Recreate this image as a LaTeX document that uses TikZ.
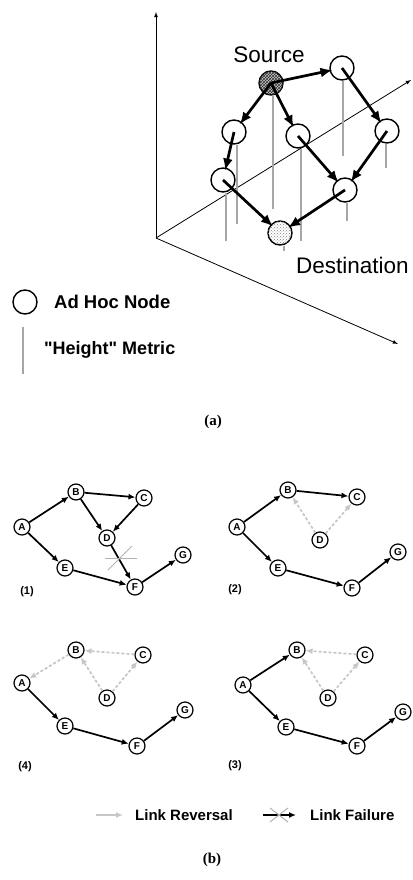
\documentclass[tikz,border=0pt]{standalone}
\usepackage{fontspec}
\setmainfont{Liberation Sans}[Ligatures=TeXOff]
\newfontfamily\capfont{Liberation Serif}
\usetikzlibrary{positioning,arrows,arrows.meta,patterns}

\tikzset{
  hoc/.style={circle,draw=black,line width=1.4pt,fill=white,minimum size=24pt,inner sep=0pt},
  nd/.style={circle,draw=black,line width=1.2pt,fill=white,minimum size=16pt,inner sep=0pt,font=\bfseries\fontsize{10}{10}\selectfont},
  txt/.style={inner sep=0pt},
  ax/.style={-latex,line width=0.8pt},
  hgt/.style={gray!70,line width=1.1pt},
  fat/.style={-{Latex[length=12pt,width=10pt]},line width=2.7pt,shorten >=-3pt},
  fwd/.style={-{Latex[length=7pt,width=6pt]},line width=1.7pt},
  rev/.style={-{Latex[length=7pt,width=6pt]},gray!45,line width=1.7pt,densely dashed},
  brk/.style={gray!60,line width=1pt}
}

\begin{document}
\begin{tikzpicture}[x=1pt,y=-1pt]
		\useasboundingbox (0,0) rectangle (412,880);

		%axes
		\coordinate (o) at (156,238);
		\coordinate (zt) at (156,12);
		\coordinate (xt) at (411,80);
		\coordinate (yt) at (398,344);
		\draw[ax] (o) -- (zt);
		\draw[ax] (o) -- (xt);
		\draw[ax] (o) -- (yt);

		%ad hoc nodes
		\node[hoc,fill=gray!45,postaction={pattern=crosshatch,pattern color=black!80}] (src) at (271,83) {};
		\node[hoc] (tr) at (342,68) {};
		\node[hoc] (rt) at (387,131) {};
		\node[hoc] (lu) at (234,132) {};
		\node[hoc] (mid) at (298,136) {};
		\node[hoc] (ll) at (223,180) {};
		\node[hoc] (rl) at (345,190) {};
		\node[hoc,postaction={pattern=crosshatch dots,pattern color=gray}] (dst) at (280,233) {};

		%heights
		\draw[hgt] ([xshift=2pt]src.south) -- ++(0,113);
		\draw[hgt] ([xshift=1pt]tr.south) -- ++(0,75);
		\draw[hgt] ([xshift=-1pt]rt.south) -- ++(0,24);
		\draw[hgt] ([xshift=3pt]lu.south) -- ++(0,79);
		\draw[hgt] ([xshift=3pt]mid.south) -- ++(0,92);
		\draw[hgt] ([xshift=3pt]ll.south) -- ++(0,48);
		\draw[hgt] ([xshift=2pt]rl.south) -- ++(0,18);
		\draw[hgt] ([xshift=4pt]dst.south) -- ++(0,5);

		%routes
		\draw[fat] (src.center) -- (tr);
		\draw[fat] (tr.center) -- (rt);
		\draw[fat] (rt.center) -- (rl);
		\draw[fat] (src.center) -- (lu);
		\draw[fat] (lu.center) -- (ll);
		\draw[fat] (src.center) -- (mid);
		\draw[fat] (mid.center) -- (rl);
		\draw[fat] (ll.center) -- (dst);
		\draw[fat] (rl.center) -- (dst);

		\node[txt,font=\fontsize{22.5}{22.5}\selectfont] (srclbl) at (269,55) {Source};
		\node[txt,anchor=west,font=\fontsize{22.5}{22.5}\selectfont] (dstlbl) at (296,265) {Destination};

		%key (a)
		\node[hoc] (key) at (25,302) {};
		\node[txt,anchor=west,font=\bfseries\fontsize{18.5}{18.5}\selectfont] (keylbl) at (54,302) {Ad Hoc Node};
		\coordinate (hk1) at (23,327);
		\coordinate (hk2) at (23,374);
		\draw[hgt] (hk1) -- (hk2);
		\node[txt,anchor=west,font=\bfseries\fontsize{18}{18}\selectfont] (hklbl) at (44,350) {"Height" Metric};
		\node[txt,font=\capfont\bfseries\fontsize{15}{15}\selectfont] (capa) at (213,422) {(a)};

		%panel (1)
		\node[nd] (a1) at (22,527) {A};
		\node[nd] (b1) at (76,492) {B};
		\node[nd] (c1) at (144,498) {C};
		\node[nd] (d1) at (107,538) {D};
		\node[nd] (e1) at (65,568) {E};
		\node[nd] (f1) at (135,587) {F};
		\node[nd] (g1) at (183,555) {G};
		\node[txt,font=\bfseries\fontsize{11}{11}\selectfont] (n1) at (27,592) {(1)};

		\draw[fwd] (a1) -- (b1);
		\draw[fwd] (b1) -- (c1);
		\draw[fwd] (b1) -- (d1);
		\draw[fwd] (c1) -- (d1);
		\draw[fwd] (d1) -- (f1);
		\draw[fwd] (a1) -- (e1);
		\draw[fwd] (e1) -- (f1);
		\draw[fwd] (f1) -- (g1);
		\draw[brk] (105,558) -- (137,558);
		\draw[brk] (108,570) -- (132,546);

		%panel (2)
		\node[nd] (a2) at (237,527) {A};
		\node[nd] (b2) at (288,490) {B};
		\node[nd] (c2) at (357,497) {C};
		\node[nd] (d2) at (320,540) {D};
		\node[nd] (e2) at (278,568) {E};
		\node[nd] (f2) at (352,588) {F};
		\node[nd] (g2) at (398,552) {G};
		\node[txt,font=\bfseries\fontsize{11}{11}\selectfont] (n2) at (235,590) {(2)};

		\draw[fwd] (a2) -- (b2);
		\draw[fwd] (b2) -- (c2);
		\draw[rev] (d2) -- (b2);
		\draw[rev] (d2) -- (c2);
		\draw[fwd] (a2) -- (e2);
		\draw[fwd] (e2) -- (f2);
		\draw[fwd] (f2) -- (g2);

		%panel (4)
		\node[nd] (a4) at (22,683) {A};
		\node[nd] (b4) at (76,650) {B};
		\node[nd] (c4) at (143,655) {C};
		\node[nd] (d4) at (107,698) {D};
		\node[nd] (e4) at (65,726) {E};
		\node[nd] (f4) at (137,746) {F};
		\node[nd] (g4) at (185,710) {G};
		\node[txt,font=\bfseries\fontsize{11}{11}\selectfont] (n4) at (25,767) {(4)};

		\draw[rev] (b4) -- (a4);
		\draw[rev] (c4) -- (b4);
		\draw[rev] (d4) -- (b4);
		\draw[rev] (d4) -- (c4);
		\draw[fwd] (a4) -- (e4);
		\draw[fwd] (e4) -- (f4);
		\draw[fwd] (f4) -- (g4);

		%panel (3)
		\node[nd] (a3) at (243,685) {A};
		\node[nd] (b3) at (297,650) {B};
		\node[nd] (c3) at (365,655) {C};
		\node[nd] (d3) at (328,698) {D};
		\node[nd] (e3) at (286,727) {E};
		\node[nd] (f3) at (357,746) {F};
		\node[nd] (g3) at (403,712) {G};
		\node[txt,font=\bfseries\fontsize{11}{11}\selectfont] (n3) at (235,766) {(3)};

		\draw[fwd] (a3) -- (b3);
		\draw[rev] (c3) -- (b3);
		\draw[rev] (d3) -- (b3);
		\draw[rev] (d3) -- (c3);
		\draw[fwd] (a3) -- (e3);
		\draw[fwd] (e3) -- (f3);
		\draw[fwd] (f3) -- (g3);

		%key (b)
		\coordinate (rv1) at (96,815);
		\coordinate (rv2) at (123,815);
		\draw[rev,solid] (rv1) -- (rv2);
		\node[txt,anchor=west,font=\bfseries\fontsize{15}{15}\selectfont] (rvlbl) at (135,815) {Link Reversal};
		\coordinate (lf1) at (263,815);
		\coordinate (lf2) at (296,815);
		\draw[fwd] (lf1) -- (lf2);
		\draw[brk] (270,808) -- (288,822);
		\draw[brk] (270,822) -- (288,808);
		\node[txt,anchor=west,font=\bfseries\fontsize{15}{15}\selectfont] (lflbl) at (310,815) {Link Failure};
		\node[txt,font=\capfont\bfseries\fontsize{15}{15}\selectfont] (capb) at (212,860) {(b)};
	\end{tikzpicture}
\end{document}
